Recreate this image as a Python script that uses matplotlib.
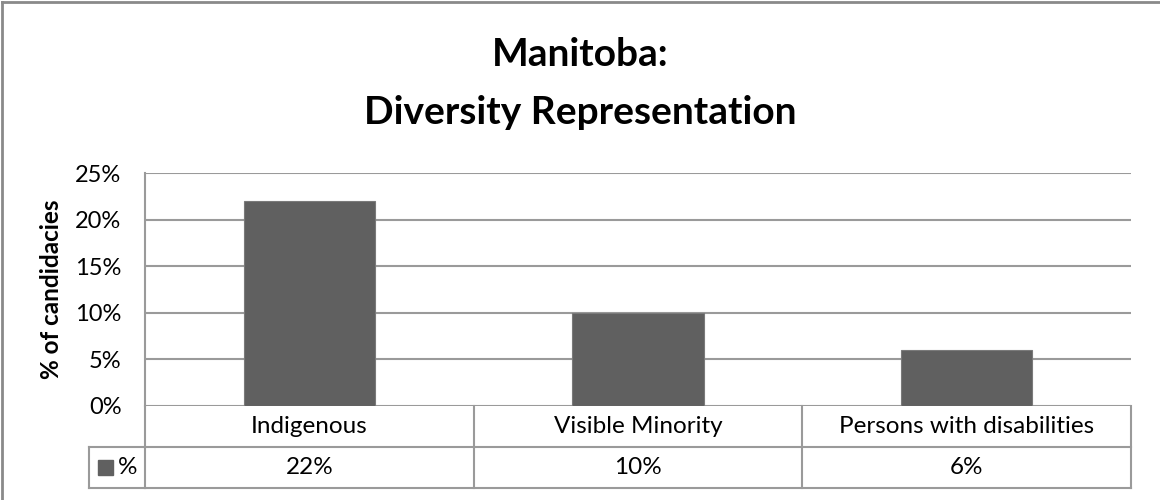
import numpy as np
import matplotlib
matplotlib.use('Agg')
import matplotlib.pyplot as plt
from matplotlib.lines import Line2D
from matplotlib.patches import Rectangle

# datos
categories = ['Indigenous', 'Visible Minority', 'Persons with disabilities']
values = [0.22, 0.10, 0.06]
series_name = '%'
yticks = [0, 0.05, 0.10, 0.15, 0.20, 0.25]

plt.rcParams['font.family'] = ['Lato', 'DejaVu Sans']
bar_color = '#606060'
line_color = '#9a9a9a'

fig = plt.figure(figsize=(11.6, 5), dpi=100)
W, H = 1160, 500

# area del grafico (pixeles medidos de la referencia)
left, right, top, bottom = 145, 1131, 173, 405.7
ax = fig.add_axes([left / W, 1 - bottom / H, (right - left) / W, (bottom - top) / H])
unit_px = (right - left) / len(categories)
ax_h = bottom - top

x = np.arange(len(categories))
ax.bar(x, values, width=0.4, color=bar_color, edgecolor='#7a7a7a', linewidth=0.8, zorder=3)
ax.set_xlim(-0.5, len(categories) - 0.5)
ax.set_ylim(0, 0.25)
ax.set_yticks(yticks)
ax.set_yticklabels([f'{int(round(v * 100))}%' for v in yticks], fontsize=17)
ax.set_xticks([])
ax.tick_params(axis='y', length=0, pad=17)
ax.grid(axis='y', color=line_color, linewidth=1.5, zorder=0)
for s in ['top', 'right', 'bottom']:
    ax.spines[s].set_visible(False)
ax.spines['left'].set_color(line_color)
ax.spines['left'].set_linewidth(1.5)
ax.set_ylabel('% of candidacies', fontsize=17.5, fontweight='bold')
ax.yaxis.set_label_coords(-(left - 63) / (right - left), (bottom - 289) / ax_h)

# tabla de datos debajo del eje
row_h = 41 / ax_h
tr = ax.get_xaxis_transform()
xl, xr = -0.5, len(categories) - 0.5
legend_w = (left - 89) / unit_px
lines = [
    ((xl, xr), (-row_h, -row_h)),
    ((xl, xr), (-2 * row_h, -2 * row_h)),
    ((xr, xr), (0, -2 * row_h)),
    ((xl, xl), (0, -2 * row_h)),
    ((xl - legend_w, xl), (-row_h, -row_h)),
    ((xl - legend_w, xl), (-2 * row_h, -2 * row_h)),
    ((xl - legend_w, xl - legend_w), (-row_h, -2 * row_h)),
]
for i in range(1, len(categories)):
    lines.append(((i - 0.5, i - 0.5), (0, -2 * row_h)))
for xs, ys in lines:
    ax.add_line(Line2D(xs, ys, transform=tr, color=line_color, linewidth=1.5, clip_on=False))

for i, (c, v) in enumerate(zip(categories, values)):
    ax.text(i, -0.5 * row_h, c, transform=tr, ha='center', va='center', fontsize=17.5)
    ax.text(i, -1.5 * row_h, f'{int(round(v * 100))}%', transform=tr, ha='center', va='center', fontsize=17.5)

# clave de la leyenda
sq = 15
ax.add_patch(Rectangle(((98 - left) / unit_px - 0.5, -1.5 * row_h - sq / 2 / ax_h), sq / unit_px, sq / ax_h,
                       transform=tr, color=bar_color, clip_on=False))
ax.text((118 - left) / unit_px - 0.5, -1.5 * row_h, series_name, transform=tr, ha='left', va='center',
        fontsize=17.5)

# titulo
fig.text(0.5, 1 - 55 / H, 'Manitoba:', ha='center', va='center', fontsize=28, fontweight='bold')
fig.text(0.5, 1 - 112 / H, 'Diversity Representation', ha='center', va='center', fontsize=28, fontweight='bold')

# borde exterior
fig.add_artist(Line2D([2 / W, 2 / W], [0, 1 - 2 / H], color='#8a8a8a', linewidth=2))
fig.add_artist(Line2D([2 / W, 1], [1 - 2 / H, 1 - 2 / H], color='#8a8a8a', linewidth=2))

fig.savefig('out.png', dpi=100)
